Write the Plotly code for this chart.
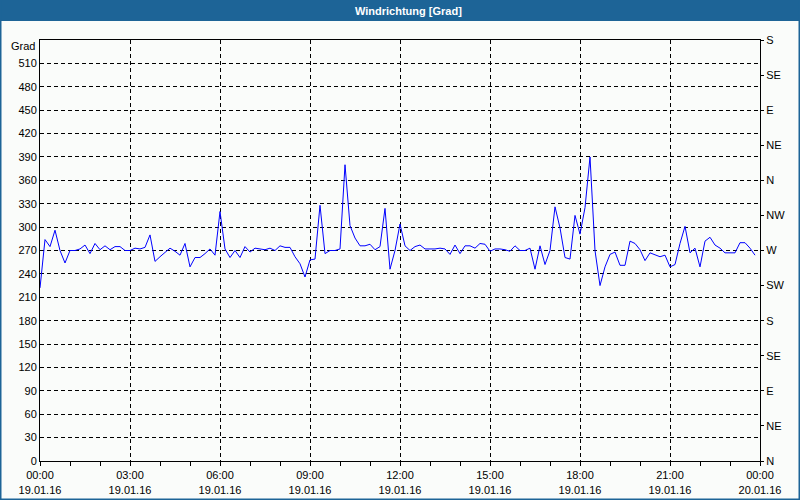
import pandas as pd
import plotly.graph_objects as go

# ---- data (wind direction, degrees, 10-minute values) ----
start_time = "2016-01-19 00:00"
end_time = "2016-01-20 00:00"
wind_dir = [
    222, 284, 275, 296, 270, 254, 270, 270, 272, 277, 266, 279,
    271, 276, 271, 275, 275, 270, 270, 273, 272, 274, 290, 256,
    262, 268, 273, 269, 264, 279, 249, 261, 261, 266, 272, 264,
    320, 272, 261, 270, 261, 275, 268, 273, 272, 271, 273, 270,
    276, 274, 274, 262, 253, 236, 258, 259, 328, 266, 270, 270,
    272, 380, 302, 286, 276, 276, 278, 271, 275, 324, 246, 270,
    304, 276, 270, 275, 277, 272, 272, 272, 273, 272, 265, 277,
    266, 276, 276, 273, 279, 278, 269, 272, 272, 271, 269, 276,
    270, 270, 273, 246, 276, 252, 270, 326, 299, 261, 259, 315,
    291, 325, 390, 270, 225, 249, 265, 268, 251, 251, 282, 279,
    271, 257, 267, 265, 262, 264, 249, 252, 279, 301, 267, 273,
    249, 282, 287, 277, 273, 267, 267, 267, 280, 280, 273, 264,
]
times = pd.date_range(start_time, periods=len(wind_dir), freq="10min")

# tick definitions
x_tickvals = pd.date_range(start_time, end_time, freq="3h")
x_ticktext = [t.strftime("%H:%M") + "<br>" + t.strftime("%d.%m.%y") for t in x_tickvals]
y_tickvals = list(range(0, 541, 30))
y_ticktext = [str(v) for v in y_tickvals[:-1]] + [""]
y_unit = "Grad"
compass_vals = list(range(0, 541, 45))
compass_text = ["N", "NE", "E", "SE", "S", "SW", "W", "NW", "N", "NE", "E", "SE", "S"]

title_text = "Windrichtung [Grad]"

BG = "#fafcfa"
BAR = "#1d6497"
FONT = "Liberation Sans"

fig = go.Figure()
fig.add_trace(go.Scatter(
    x=times, y=wind_dir, mode="lines",
    line=dict(color="#0000ff", width=1),
    showlegend=False, hoverinfo="x+y",
))
# helper trace so the right (compass) axis is drawn
fig.add_trace(go.Scatter(
    x=[times[0]], y=[0], yaxis="y2", mode="markers",
    marker=dict(opacity=0), showlegend=False, hoverinfo="skip",
))

W, H = 800, 500
ml, mr, mt, mb = 40, 40, 40, 39
pw, ph = W - ml - mr, H - mt - mb

def px_x(p):
    return (p - ml) / pw

def px_y(p):
    return 1 - (p - mt) / ph

shapes = [
    # title bar
    dict(type="rect", xref="paper", yref="paper",
         x0=px_x(0), x1=px_x(W), y0=px_y(21), y1=px_y(0),
         fillcolor=BAR, line=dict(width=0), layer="below"),
    # outer border
    dict(type="rect", xref="paper", yref="paper",
         x0=px_x(0.5), x1=px_x(W - 0.5), y0=px_y(H - 0.5), y1=px_y(0),
         fillcolor="rgba(0,0,0,0)", line=dict(color=BAR, width=2), layer="above"),
]

fig.update_layout(
    width=W, height=H,
    margin=dict(l=ml, r=mr, t=mt, b=mb, autoexpand=False),
    paper_bgcolor=BG, plot_bgcolor=BG,
    font=dict(family=FONT, size=11, color="black"),
    shapes=shapes,
    annotations=[
        dict(
            text="<b>" + title_text + "</b>", xref="paper", yref="paper",
            x=px_x(409), y=px_y(10.5), xanchor="center", yanchor="middle",
            showarrow=False, font=dict(color="white", size=11, family=FONT),
        ),
        dict(
            text=y_unit, xref="paper", yref="paper",
            x=px_x(37), y=px_y(45.5), xanchor="right", yanchor="middle",
            showarrow=False, font=dict(color="black", size=11, family=FONT),
        ),
    ],
    xaxis=dict(
        type="date",
        range=[start_time, end_time],
        tickmode="array", tickvals=x_tickvals, ticktext=x_ticktext,
        ticks="outside", ticklen=4, tickcolor="black",
        showgrid=True, gridcolor="black", griddash="4px,3px", gridwidth=1,
        showline=True, linecolor="black", linewidth=1, mirror=True,
        zeroline=False,
        minor=dict(dtick=3600000, tick0=start_time, ticks="outside",
                   ticklen=4, tickcolor="black", showgrid=False),
        tickfont=dict(size=11),
        fixedrange=True,
    ),
    yaxis=dict(
        range=[0, 540],
        tickmode="array", tickvals=y_tickvals, ticktext=y_ticktext,
        ticks="", showgrid=True, gridcolor="black", griddash="4px,3px", gridwidth=1,
        showline=True, linecolor="black", linewidth=1, mirror=True,
        zeroline=False,
        tickfont=dict(size=11),
        fixedrange=True,
    ),
    yaxis2=dict(
        range=[0, 540], overlaying="y", side="right",
        tickmode="array", tickvals=compass_vals, ticktext=compass_text,
        ticks="outside", ticklen=3, tickcolor="black",
        showgrid=False, zeroline=False, showline=False,
        tickfont=dict(size=11),
        fixedrange=True,
    ),
)

fig.write_html(
    "out.html",
    config={"displayModeBar": False},
    post_script="document.body.style.margin='0px';document.body.style.overflow='hidden';",
)
